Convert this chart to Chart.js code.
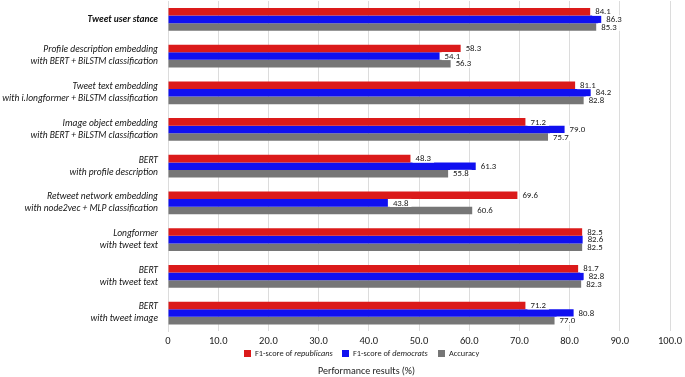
<!DOCTYPE html>
<html lang="en">
<head>
  <meta charset="UTF-8" />
  <title>Performance results</title>
  <script src="https://cdn.jsdelivr.net/npm/chart.js"></script>
  <style>
    body { margin: 0; background: #fff; font-family: Carlito, "Roboto Condensed", sans-serif; color: #222; }
    .wrap { position: relative; width: 685px; height: 377px; }
    .legend-item { position: absolute; top: 347px; font-size: 8.3px; white-space: nowrap; line-height: 12px; }
    .legend-item .box { display: inline-block; width: 7px; height: 7px; margin-right: 4px; vertical-align: -0.5px; }
    .axis-title { position: absolute; top: 364px; left: 0; width: 733px; text-align: center; font-size: 10px; line-height: 14px; }
  </style>
</head>
<body>
  <div class="wrap">
    <canvas id="perfChart" width="685" height="377"></canvas>
    <div class="legend-item" style="left:244px"><span class="box" style="background:#db1a1a"></span>F1-score of <i>republicans</i></div>
    <div class="legend-item" style="left:342px"><span class="box" style="background:#1010f0"></span>F1-score of <i>democrats</i></div>
    <div class="legend-item" style="left:438px"><span class="box" style="background:#767676"></span>Accuracy</div>
    <div class="axis-title">Performance results (%)</div>
  </div>
  <script>
    const categories = [
      ['Tweet user stance'],
      ['Profile description embedding', 'with BERT + BiLSTM classification'],
      ['Tweet text embedding', 'with i.longformer + BiLSTM classification'],
      ['Image object embedding', 'with BERT + BiLSTM classification'],
      ['BERT', 'with profile description'],
      ['Retweet network embedding', 'with node2vec + MLP classification'],
      ['Longformer', 'with tweet text'],
      ['BERT', 'with tweet text'],
      ['BERT', 'with tweet image']
    ];
    const f1Republicans = [84.1, 58.3, 81.1, 71.2, 48.3, 69.6, 82.5, 81.7, 71.2];
    const f1Democrats   = [86.3, 54.1, 84.2, 79.0, 61.3, 43.8, 82.6, 82.8, 80.8];
    const accuracy      = [85.3, 56.3, 82.8, 75.7, 55.8, 60.6, 82.5, 82.3, 77.0];
    const xTicks = [0, 10, 20, 30, 40, 50, 60, 70, 80, 90, 100];

    const fontFamily = 'Carlito, "Roboto Condensed", sans-serif';

    // value next to each bar, on a small white box
    const valueLabels = {
      id: 'value-labels',
      afterDatasetsDraw(chart) {
        const { ctx } = chart;
        ctx.save();
        ctx.font = '8.8px ' + fontFamily;
        ctx.textBaseline = 'middle';
        ctx.textAlign = 'left';
        chart.data.datasets.forEach((ds, i) => {
          chart.getDatasetMeta(i).data.forEach((bar, j) => {
            const txt = ds.data[j].toFixed(1);
            const w = ctx.measureText(txt).width;
            const x = bar.x + 2;
            ctx.fillStyle = '#fff';
            ctx.fillRect(x, bar.y - 4, w + 6, 8);
            ctx.fillStyle = '#222';
            ctx.fillText(txt, x + 3, bar.y + 0.5);
          });
        });
        ctx.restore();
      }
    };

    new Chart(document.getElementById('perfChart'), {
      type: 'bar',
      data: {
        labels: categories,
        datasets: [
          { label: 'F1-score of republicans', data: f1Republicans, backgroundColor: '#db1a1a' },
          { label: 'F1-score of democrats', data: f1Democrats, backgroundColor: '#1010f0' },
          { label: 'Accuracy', data: accuracy, backgroundColor: '#767676' }
        ]
      },
      options: {
        indexAxis: 'y',
        responsive: false,
        animation: false,
        layout: { padding: { top: 1, right: 15, bottom: 25, left: 0 } },
        datasets: { bar: { categoryPercentage: 0.62, barPercentage: 1.0 } },
        plugins: {
          legend: { display: false },
          tooltip: { enabled: false }
        },
        scales: {
          x: {
            min: 0, max: 100,
            afterBuildTicks(scale) { scale.ticks = xTicks.map(v => ({ value: v })); },
            afterFit(scale) { scale.paddingLeft = 0; scale.paddingRight = 0; },
            ticks: {
              color: '#222',
              padding: 4,
              font: { family: fontFamily, size: 10.5 },
              callback: v => v === 0 ? '0' : v.toFixed(1)
            },
            grid: { color: '#dcdcdc', drawTicks: false },
            border: { display: false }
          },
          y: {
            afterFit(scale) { scale.width = 168; scale.paddingTop = 0; scale.paddingBottom = 0; },
            ticks: {
              color: '#111',
              padding: 2,
              font: ctx => ({ family: fontFamily, size: 9.5, style: 'italic', weight: ctx.index === 0 ? 'bold' : 'normal', lineHeight: 1.26 })
            },
            grid: { display: false },
            border: { color: '#dcdcdc' }
          }
        }
      },
      plugins: [valueLabels]
    });
  </script>
</body>
</html>
